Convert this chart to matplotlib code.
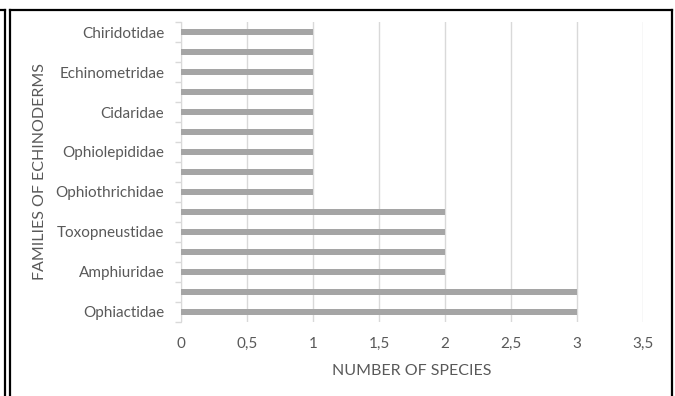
import matplotlib
matplotlib.use("Agg")
import matplotlib.pyplot as plt
from matplotlib.lines import Line2D

plt.rcParams["font.family"] = ["Lato", "DejaVu Sans"]

# data (bottom -> top); Excel skipped every other label
families = ["Ophiactidae", "", "Amphiuridae", "", "Toxopneustidae", "",
            "Ophiothrichidae", "", "Ophiolepididae", "", "Cidaridae", "",
            "Echinometridae", "", "Chiridotidae"]
species = [3, 3, 2, 2, 2, 2, 1, 1, 1, 1, 1, 1, 1, 1, 1]
xticks = [0, 0.5, 1, 1.5, 2, 2.5, 3, 3.5]
xticklabels = ["0", "0,5", "1", "1,5", "2", "2,5", "3", "3,5"]

TXT = "#595959"; GRID = "#d9d9d9"; BAR = "#a5a5a5"
FS = 11

fig = plt.figure(figsize=(6.75, 3.96), dpi=100)
ax = fig.add_axes([181/675, 1 - 322/396, (643 - 181)/675, 300/396])

pos = list(range(len(families)))
ax.barh(pos, species, height=0.34, color=BAR, zorder=3)
ax.set_ylim(-0.5, len(families) - 0.5)
ax.set_xlim(0, 3.5)

ax.set_xticks(xticks)
ax.set_xticklabels(xticklabels, color=TXT, fontsize=FS)
ax.tick_params(axis="x", length=0, pad=11)
ax.grid(axis="x", color=GRID, lw=1, zorder=0)

# category labels plus little tick marks at the boundaries
ax.set_yticks(pos)
ax.set_yticklabels(families, color=TXT, fontsize=FS)
ax.tick_params(axis="y", length=0, pad=12)
ax.set_yticks([p - 0.5 for p in pos] + [len(families) - 0.5], minor=True)
ax.tick_params(axis="y", which="minor", length=4, color=GRID, width=1)

for s in ["top", "right", "bottom"]:
    ax.spines[s].set_visible(False)
ax.spines["left"].set_color(GRID)

ax.set_xlabel("NUMBER OF SPECIES", color=TXT, fontsize=11.5, labelpad=9)
ax.set_ylabel("FAMILIES OF ECHINODERMS", color=TXT, fontsize=11.5, labelpad=6)

# frame lines around the chart
W, H = 675, 396
def ln(x0, y0, x1, y1, lw=1.6):
    fig.add_artist(Line2D([x0/W, x1/W], [1 - y0/H, 1 - y1/H], color="black", lw=lw))
ln(4.5, 9.5, 4.5, 396)
ln(0, 9.5, 4.5, 9.5)
ln(9.5, 9.5, 9.5, 396)
ln(9.5, 9.5, 672, 9.5)
ln(672, 9.5, 672, 396)

fig.savefig("out.png", dpi=100)
